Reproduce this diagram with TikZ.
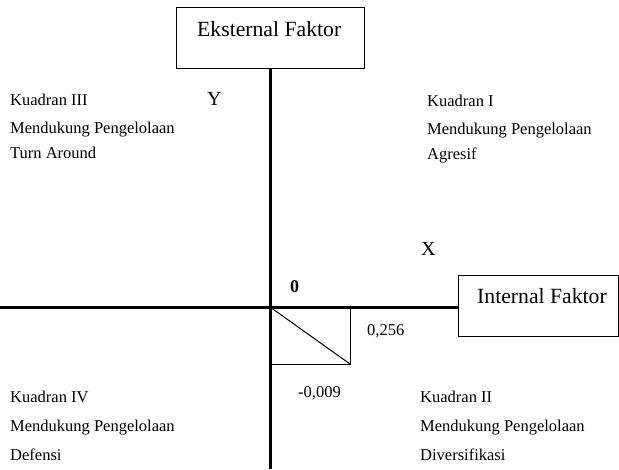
\documentclass[tikz,border=0pt]{standalone}
\usepackage{fontspec}
\setmainfont{Liberation Serif}
\begin{document}
\begin{tikzpicture}[x=1pt,y=-1pt,
  lbl/.style={anchor=base west,inner sep=0pt,font=\fontsize{16.5}{18}\selectfont},
  big/.style={anchor=base west,inner sep=0pt,font=\fontsize{21.7}{24}\selectfont},
  axis/.style={line width=3pt},
  thin/.style={line width=1pt}]
\useasboundingbox (0,0) rectangle (619,469);
% boxes
\draw[thin] (176,7) rectangle (364,68);
\node[big] (ek) at (197,36) {Eksternal Faktor};
\draw[thin] (458,275) rectangle (618,336);
\node[big] (in) at (477,303) {Internal Faktor};
% axes
\coordinate (o) at (270,307);
\coordinate (vt) at (270,68);
\coordinate (vb) at (270,469);
\coordinate (hl) at (0,307);
\coordinate (hr) at (458,307);
\draw[axis] (vt) -- (vb);
\draw[axis] (hl) -- (hr);
% small box
\coordinate (c) at (350,364);
\draw[thin] (o) rectangle (c);
\draw[thin] (o) -- (c);
% labels
\node[anchor=base west,inner sep=0pt,font=\fontsize{20}{22}\selectfont] (y) at (207,105) {Y};
\node[anchor=base west,inner sep=0pt,font=\fontsize{20}{22}\selectfont] (x) at (421,255) {X};
\node[anchor=base west,inner sep=0pt,font=\fontsize{18}{20}\selectfont\bfseries] (zero) at (290,292) {0};
\node[lbl] (v1) at (367,335) {0,256};
\node[lbl] (v2) at (298,397) {-0,009};
% quadrants
\node[lbl] (q3a) at (10,105) {Kuadran III};
\node[lbl] (q3b) at (10,133) {Mendukung Pengelolaan};
\node[lbl] (q3c) at (10,158) {Turn Around};
\node[lbl] (q1a) at (427,106) {Kuadran I};
\node[lbl] (q1b) at (427,134) {Mendukung Pengelolaan};
\node[lbl] (q1c) at (427,159) {Agresif};
\node[lbl] (q4a) at (10,402) {Kuadran IV};
\node[lbl] (q4b) at (10,431) {Mendukung Pengelolaan};
\node[lbl] (q4c) at (10,460) {Defensi};
\node[lbl] (q2a) at (420,402) {Kuadran II};
\node[lbl] (q2b) at (420,431) {Mendukung Pengelolaan};
\node[lbl] (q2c) at (420,460) {Diversifikasi};
\end{tikzpicture}
\end{document}
